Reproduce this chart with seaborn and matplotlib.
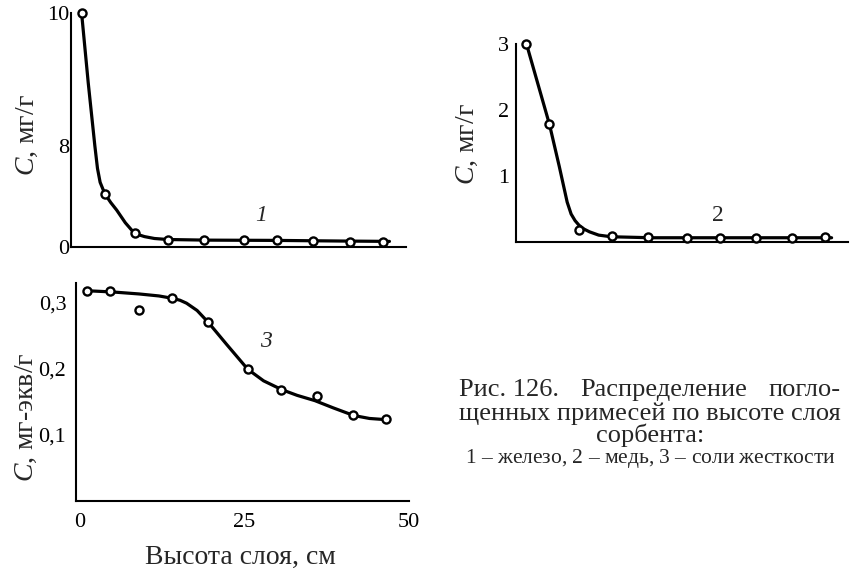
import numpy as np
import matplotlib
matplotlib.use("Agg")
import matplotlib.pyplot as plt
import seaborn as sns

# ---------------- data ----------------
height_cm = [1, 4.5, 9, 14, 19.5, 25.5, 30.5, 36, 41.5, 46.5]

iron_points = [10.0, 4.2, 1.05, 0.55, 0.55, 0.5, 0.5, 0.45, 0.4, 0.4]
iron_curve_x = [1, 2, 3, 3.4, 3.8, 4.5, 5.4, 6.3, 7.6, 9, 10.5, 12, 14, 20, 30, 40, 47.5]
iron_curve_y = [10.0, 8.95, 8.0, 6.2, 5.1, 4.2, 3.5, 2.9, 1.9, 1.05, 0.8, 0.65, 0.57, 0.52, 0.5,
                0.45, 0.42]

copper_points = [3.0, 1.78, 0.18, 0.085, 0.065, 0.05, 0.05, 0.05, 0.05, 0.065]
copper_curve_x = [1, 4.5, 6, 7.2, 7.8, 8.4, 9, 9.8, 10.6, 12, 13.9, 20, 30, 40, 47.5]
copper_curve_y = [3.0, 1.78, 1.14, 0.6, 0.42, 0.32, 0.25, 0.19, 0.15, 0.1, 0.075, 0.06, 0.06,
                  0.06, 0.06]

hardness_points = [0.318, 0.318, 0.288, 0.3065, 0.27, 0.199, 0.168, 0.158, 0.129, 0.123]
hardness_curve_x = [0.8, 5, 9, 12, 14, 15.2, 16.2, 17.8, 19.5, 22.3, 25.5, 27.9, 30.7, 33, 35.7,
                    38.5, 41.6, 44, 46.8]
hardness_curve_y = [0.318, 0.316, 0.313, 0.310, 0.3065, 0.3035, 0.299, 0.288, 0.27, 0.2365, 0.199,
                    0.1815, 0.168, 0.1595, 0.1515, 0.1405, 0.129, 0.1245, 0.1225]

iron_yticks = [0, 8, 10]
iron_yticklabels = ["0", "8", "10"]
copper_yticks = [1, 2, 3]
copper_yticklabels = ["1", "2", "3"]
hardness_yticks = [0.1, 0.2, 0.3]
hardness_yticklabels = ["0,1", "0,2", "0,3"]
x_ticks = [0, 25, 50]
x_ticklabels = ["0", "25", "50"]

# ---------------- style ----------------
sns.set_style("white")
plt.rcParams["font.family"] = ["Liberation Serif", "DejaVu Serif"]
plt.rcParams["mathtext.fontset"] = "custom"
plt.rcParams["mathtext.rm"] = "Liberation Serif"
plt.rcParams["mathtext.it"] = "Liberation Serif:italic"

FS_TICK = 16
FS_LABEL = 20
FS_CAP = 19
FS_CAP_SMALL = 15.5
LW_SPINE = 1.5
LW_CURVE = 2.3

fig = plt.figure(figsize=(8.5, 5.7), dpi=100)
W, H = 850, 570


def add_axes(l, r, t, b):
    return fig.add_axes([l / W, 1 - b / H, (r - l) / W, (b - t) / H])


ax1 = add_axes(71, 406, 13, 246.7)
ax2 = add_axes(516, 848, 44, 241.7)
ax3 = add_axes(76, 409, 283, 500.7)

# piecewise (broken) vertical scale of panel 1: 0..8 compressed, 8..10 expanded
K = 5.255


def fwd(v):
    v = np.asarray(v, dtype=float)
    return np.where(v <= 8, v, 8 + (v - 8) * K)


def inv(u):
    u = np.asarray(u, dtype=float)
    return np.where(u <= 8, u, 8 + (u - 8) / K)


ax1.set_yscale("function", functions=(fwd, inv))


def draw(ax, cx, cy, px, py):
    sns.lineplot(x=cx, y=cy, ax=ax, color="black", linewidth=LW_CURVE,
                 sort=False, estimator=None, zorder=2)
    sns.scatterplot(x=px, y=py, ax=ax, s=34, marker="o", facecolor="white",
                    edgecolor="black", linewidth=1.7, zorder=3, clip_on=False)


draw(ax1, iron_curve_x, iron_curve_y, height_cm, iron_points)
draw(ax2, copper_curve_x, copper_curve_y, height_cm, copper_points)
draw(ax3, hardness_curve_x, hardness_curve_y, height_cm, hardness_points)

for ax in (ax1, ax2, ax3):
    ax.set_xlim(-0.6, 50)
    for s in ("top", "right"):
        ax.spines[s].set_visible(False)
    for s in ("left", "bottom"):
        ax.spines[s].set_linewidth(LW_SPINE)
        ax.spines[s].set_color("black")
    ax.tick_params(direction="in", length=6, width=1.3, colors="black",
                   labelsize=FS_TICK)
    ax.set_facecolor("white")

ax1.set_ylim(0, 10)
ax2.set_ylim(0, 3.0)
ax3.set_ylim(0, 0.3296)

ax1.set_yticks(iron_yticks)
ax1.set_yticklabels(iron_yticklabels)
ax2.set_yticks(copper_yticks)
ax2.set_yticklabels(copper_yticklabels)
ax3.set_yticks(hardness_yticks)
ax3.set_yticklabels(hardness_yticklabels)

ax1.set_xticks([50])
ax1.set_xticklabels([""])
ax2.set_xticks([50])
ax2.set_xticklabels([""])
ax3.set_xticks(x_ticks)
ax3.set_xticklabels(x_ticklabels)
ax3.xaxis.get_major_ticks()[0].tick1line.set_visible(False)

ax1.tick_params(axis="y", pad=1)
ax2.tick_params(axis="y", pad=5)
ax3.tick_params(axis="y", pad=7)
ax3.tick_params(axis="x", pad=9)

# axis labels
ax1.set_ylabel("$C$, мг/г", fontsize=FS_LABEL, va="center")
ax1.yaxis.set_label_coords(-0.131, 0.478)
ax2.set_ylabel("$C$, мг/г", fontsize=FS_LABEL, va="center")
ax2.yaxis.set_label_coords(-0.145, 0.494)
ax3.set_ylabel("$C$, мг-экв/г", fontsize=FS_LABEL, va="center")
ax3.yaxis.set_label_coords(-0.150, 0.384)
ax3.set_xlabel("Высота слоя, см", fontsize=FS_LABEL, va="center")
ax3.xaxis.set_label_coords(0.4925, -0.259)

# curve numbers
ax1.text(28.1, 2.5, "1", fontsize=17, style="italic", ha="center", va="center")
ax2.text(30.1, 0.405, "2", fontsize=17, ha="center", va="center")
ax3.text(28.3, 0.2414, "3", fontsize=17, style="italic", ha="center", va="center")

# caption (right edge of the text block, line-1 justified)
CAP_R = 841
t2 = fig.text(CAP_R / W, 1 - 420 / H, "щенных примесей по высоте слоя", fontsize=FS_CAP,
              ha="right", va="baseline")
fig.canvas.draw()
r = fig.canvas.get_renderer()
bb2 = t2.get_window_extent(r)
cap_l = bb2.x0
cap_c = (bb2.x0 + bb2.x1) / 2

p1 = fig.text(cap_l / W, 1 - 396 / H, "Рис. 126.", fontsize=FS_CAP, ha="left", va="baseline")
p3 = fig.text(CAP_R / W, 1 - 396 / H, "погло-", fontsize=FS_CAP, ha="right", va="baseline")
p2 = fig.text(0.5, 1 - 396 / H, "Распределение", fontsize=FS_CAP, ha="center", va="baseline")
fig.canvas.draw()
b1 = p1.get_window_extent(r)
b2 = p2.get_window_extent(r)
b3 = p3.get_window_extent(r)
gap = ((b3.x0 - b1.x1) - b2.width) / 2
p2.set_x((b1.x1 + gap + b2.width / 2) / W)

fig.text(cap_c / W, 1 - 442 / H, "сорбента:", fontsize=FS_CAP, ha="center", va="baseline")
fig.text(cap_c / W, 1 - 463 / H,
         "$\\mathit{1}$ – железо, $\\mathit{2}$ – медь, $\\mathit{3}$ – соли жесткости",
         fontsize=FS_CAP_SMALL, ha="center", va="baseline")

fig.savefig("out.png", dpi=100, facecolor="white")
